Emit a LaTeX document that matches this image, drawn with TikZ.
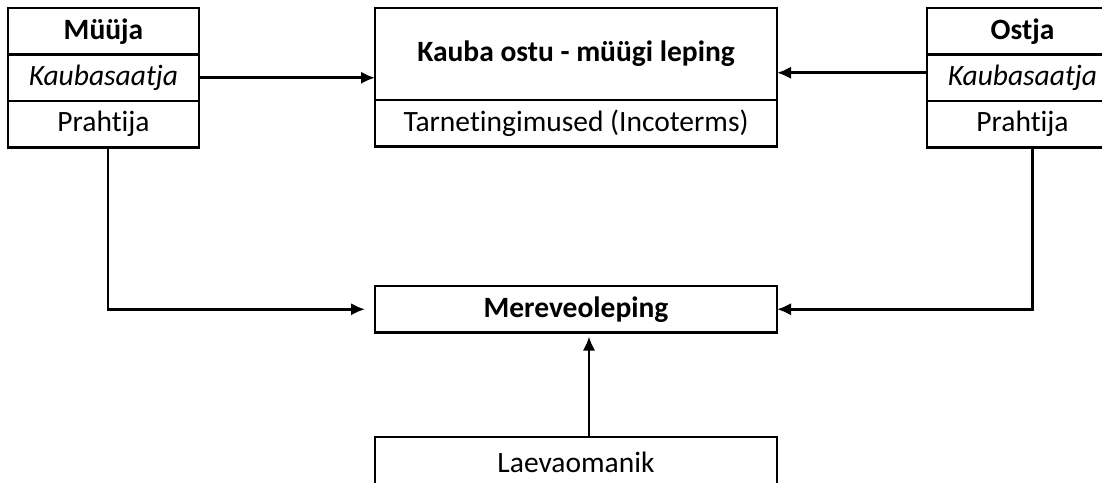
\documentclass[tikz,border=0pt]{standalone}
\usepackage{fontspec}
\setmainfont{Carlito}[Ligatures=NoCommon]
\usetikzlibrary{arrows.meta,positioning}
\tikzset{
  box/.style={draw, line width=0.9pt, inner sep=0pt, outer sep=0pt,
    minimum height=18.6pt, font=\fontsize{11.8}{14}\selectfont},
  party/.style={box, minimum width=76.4pt},
  contract/.style={box, minimum width=160.8pt},
  link/.style={line width=1.1pt, -{Latex[length=5.6pt,width=5pt]}}
}
\begin{document}
\begin{tikzpicture}[x=0.4pt,y=-0.4pt]
	    \useasboundingbox (0,0) rectangle (1102,482);
	    \clip (0,0) rectangle (1102,482);
	    \node[party, anchor=north west] (muuja) at (8,8) {\textbf{Müüja}};
	    \node[party, below=0pt of muuja] (muuja-k) {\textit{Kaubasaatja}};
	    \node[party, below=0pt of muuja-k] (muuja-p) {Prahtija};
	    \node[contract, anchor=north west, minimum height=36.8pt] (kauba) at (375,8) {\textbf{Kauba ostu - müügi leping}};
	    \node[contract, below=0pt of kauba] (tarne) {Tarnetingimused (Incoterms)};
	    \node[party, anchor=north west] (ostja) at (927,8) {\textbf{Ostja}};
	    \node[party, below=0pt of ostja] (ostja-k) {\textit{Kaubasaatja}};
	    \node[party, below=0pt of ostja-k] (ostja-p) {Prahtija};
	    \node[contract, anchor=north west] (merev) at (375,286) {\textbf{Mereveoleping}};
	    \node[contract, anchor=north west, minimum height=20pt] (laev) at (375,437) {Laevaomanik};
	    \draw[link] (muuja-k) -- (kauba.west |- muuja-k);
	    \draw[link] ([yshift=2pt]ostja-k.west) -- ([yshift=2pt]kauba.east |- ostja-k);
	    \draw[link] ([xshift=1.8pt]muuja-p.south) |- ([xshift=-4pt]merev.west);
	    \draw[link] ([xshift=4pt]ostja-p.south) |- (merev.east);
	    \draw[link] ([xshift=5.2pt]laev.north) -- ([xshift=5.2pt,yshift=-1.6pt]merev.south);
	\end{tikzpicture}
\end{document}
